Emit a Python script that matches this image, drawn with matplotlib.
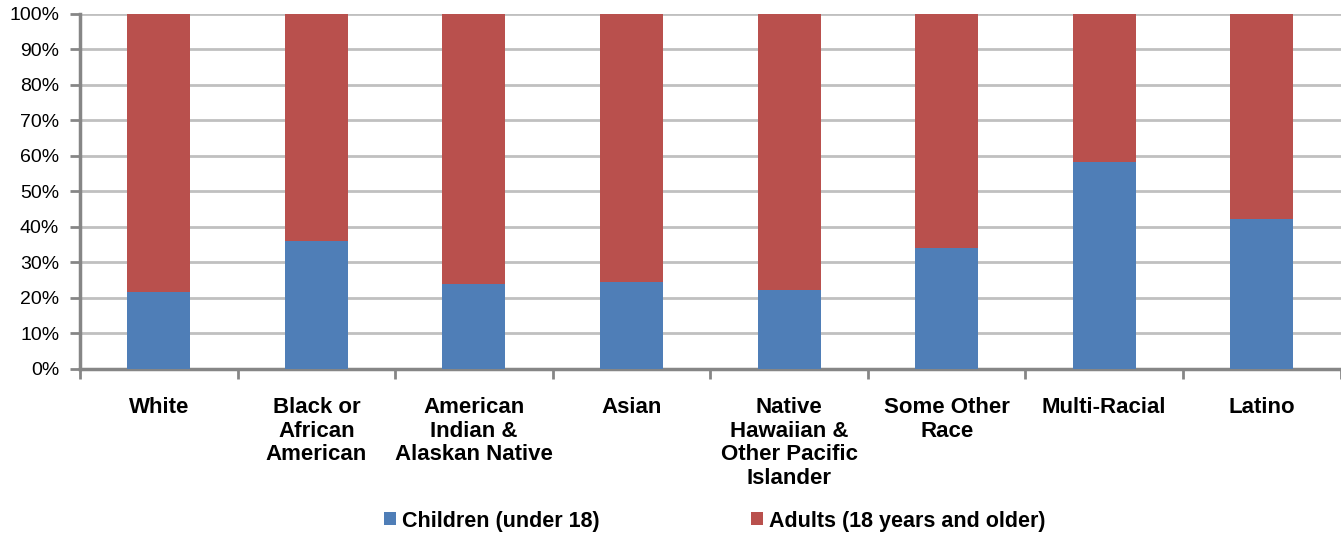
import matplotlib.pyplot as plt
import numpy as np

categories = ['White', 'Black or\nAfrican\nAmerican', 'American\nIndian &\nAlaskan Native', 'Asian',
              'Native\nHawaiian &\nOther Pacific\nIslander', 'Some Other\nRace', 'Multi-Racial', 'Latino']
children = [21.7, 35.9, 23.9, 24.5, 22.2, 34.1, 58.4, 42.1]
adults = [100 - c for c in children]

plt.rcParams['font.family'] = ['Liberation Sans', 'DejaVu Sans']

fig = plt.figure(figsize=(13.41, 5.37), dpi=100)
ax = fig.add_axes([0.0597, 0.313, 0.94, 0.661])

x = np.arange(len(categories))
ax.bar(x, children, width=0.4, color='#4F7EB7', label='Children (under 18)', zorder=3)
ax.bar(x, adults, width=0.4, bottom=children, color='#B9504D', label='Adults (18 years and older)', zorder=3)

ax.set_xlim(-0.5, len(categories) - 0.5)
ax.set_ylim(0, 100)
ax.set_yticks(np.arange(0, 101, 10))
ax.set_yticklabels([f'{v}%' for v in range(0, 101, 10)], fontsize=14)
ax.yaxis.grid(True, color='#c0c0c0', linewidth=2, zorder=0)

ax.set_xticks(x)
ax.set_xticklabels(categories, fontsize=16, fontweight='bold', linespacing=1.18, va='top')
ax.tick_params(axis='x', length=0, pad=20)
ax.set_xticks(np.arange(-0.5, len(categories)), minor=True)
ax.tick_params(axis='x', which='minor', length=7, width=2, color='#868686')
ax.tick_params(axis='y', length=7, width=2, color='#868686', pad=8)

for s in ['top', 'right']:
    ax.spines[s].set_visible(False)
for s in ['left', 'bottom']:
    ax.spines[s].set_color('#868686')
    ax.spines[s].set_linewidth(2.5)

fig.legend(*ax.get_legend_handles_labels(), loc='center', bbox_to_anchor=(0.533, 1 - 521 / 537),
           ncol=2, frameon=False, prop={'size': 15.5, 'weight': 'bold'},
           handlelength=0.55, handleheight=0.55, handletextpad=0.3, columnspacing=7.0)

fig.savefig('out.png', dpi=100)
